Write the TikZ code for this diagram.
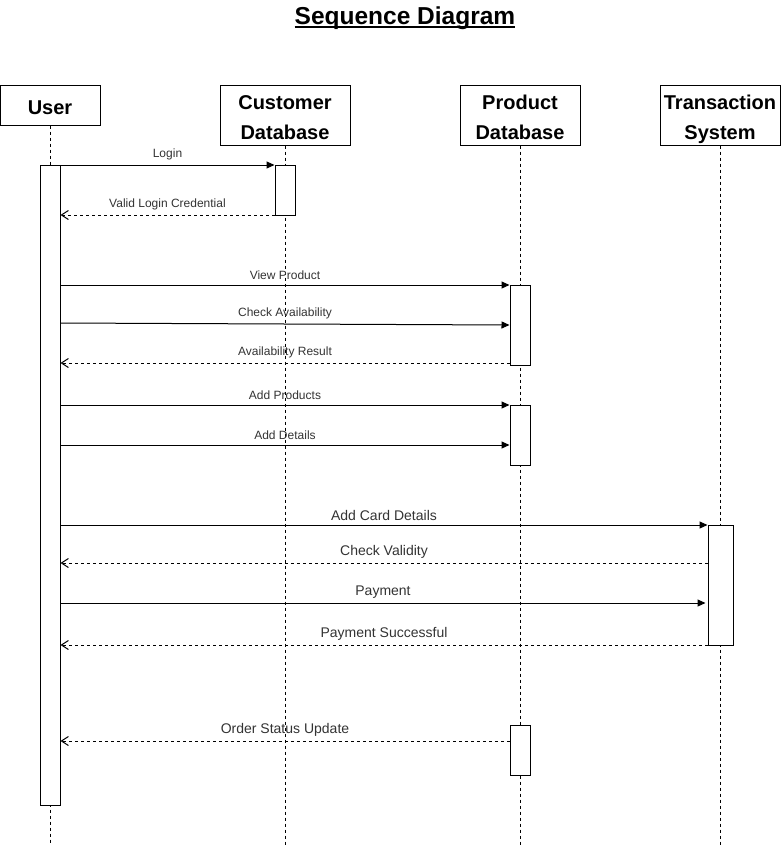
\documentclass[tikz,border=0pt]{standalone}
\usepackage{fontspec}
\setmainfont{Liberation Sans}
\usetikzlibrary{arrows.meta}
\definecolor{lbl}{HTML}{333333}
\newcommand{\hd}[1]{\raisebox{-9pt}[0pt][0pt]{\begin{tabular}{@{}c@{}}#1\end{tabular}}}
\tikzset{
  actor/.style={draw,line width=1pt,minimum height=60,inner sep=0pt,
    font=\bfseries\fontsize{20}{30}\selectfont},
  act/.style={draw,fill=white,line width=1pt,minimum width=20,inner sep=0pt},
  life/.style={line width=1pt,dash pattern=on 3pt off 3pt},
  call/.style={line width=1pt,-{Triangle[length=8pt,width=7pt]}},
  reply/.style={line width=1pt,dash pattern=on 3pt off 3pt,-{Straight Barb[length=7pt,width=9pt]}},
  small/.style={text=lbl,font=\fontsize{12}{14}\selectfont,above=1.5pt,midway},
  big/.style={text=lbl,font=\fontsize{14}{16}\selectfont,above=0.5pt,midway}
}
\begin{document}
\begin{tikzpicture}[x=1pt,y=-1pt]
\useasboundingbox (0,0) rectangle (781,846);
\node[inner sep=0pt,font=\bfseries\fontsize{24.5}{28}\selectfont] (title) at (405,18) {Sequence Diagram};
\draw[line width=1.6pt] ([yshift=-3pt]title.base west) -- ([yshift=-3pt]title.base east);
\node[actor,minimum width=100,minimum height=40] (user) at (50,105) {\hd{User}};
\node[actor,minimum width=130] (cdb) at (285,115) {\hd{Customer\\Database}};
\node[actor,minimum width=120] (pdb) at (520,115) {\hd{Product\\Database}};
\node[actor,minimum width=120] (ts) at (720,115) {\hd{Transaction\\System}};
\coordinate (end) at (0,845);
\foreach \n in {user,cdb,pdb,ts}
  \draw[life] (\n.south) -- (\n.south |- end);
% activation bars
\node[act,minimum height=640] (ua) at (50,485) {};
\node[act,minimum height=50] (ca) at (285,190) {};
\node[act,minimum height=80] (pa1) at (520,325) {};
\node[act,minimum height=60] (pa2) at (520,435) {};
\node[act,minimum width=25,minimum height=120] (ta) at (720.5,585) {};
\node[act,minimum height=50] (pa3) at (520,750) {};
% messages
\draw[call] (ua.east |- 0,165) -- (ca.west |- 0,165) node[small] {Login};
\draw[reply] (ca.west |- 0,215) -- (ua.east |- 0,215) node[small] {Valid Login Credential};
\draw[call] (ua.east |- 0,285) -- (pa1.west |- 0,285) node[small] {View Product};
\draw[call] (ua.east |- 0,323) -- (pa1.west |- 0,325) node[small] {Check Availability};
\draw[reply] (pa1.west |- 0,363) -- (ua.east |- 0,363) node[small] {Availability Result};
\draw[call] (ua.east |- 0,405) -- (pa2.west |- 0,405) node[small] {Add Products};
\draw[call] (ua.east |- 0,445) -- (pa2.west |- 0,445) node[small] {Add Details};
\draw[call] (ua.east |- 0,525) -- (ta.west |- 0,525) node[big] {Add Card Details};
\draw[reply] (ta.west |- 0,563) -- (ua.east |- 0,563) node[big] {Check Validity};
\draw[call] (ua.east |- 0,603) -- ([xshift=-2pt]ta.west |- 0,603) node[big] {Payment};
\draw[reply] (ta.west |- 0,645) -- (ua.east |- 0,645) node[big] {Payment Successful};
\draw[reply] (pa3.west |- 0,741) -- (ua.east |- 0,741) node[big] {Order Status Update};
\end{tikzpicture}
\end{document}
